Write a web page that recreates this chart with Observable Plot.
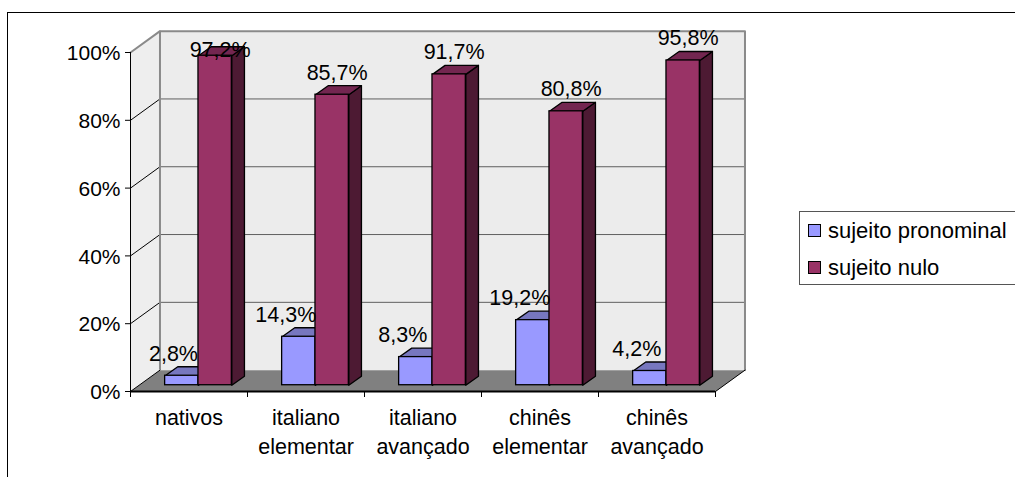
<!DOCTYPE html>
<html lang="pt">
<head>
<meta charset="utf-8">
<script src="https://cdn.jsdelivr.net/npm/d3@7"></script>
<script src="https://cdn.jsdelivr.net/npm/@observablehq/plot@0.6"></script>
<style>
  html, body { margin: 0; padding: 0; background: #fff; }
  #page { position: relative; width: 1015px; height: 477px; overflow: hidden; font-family: "Liberation Sans", Arial, sans-serif; color: #000; }
  #page svg { position: absolute; left: 0; top: 0; }
  #frame { position: absolute; left: 7px; top: 12px; right: -2px; bottom: -2px; border-left: 1px solid #000; border-top: 1px solid #000; }
  #legend { position: absolute; left: 799px; top: 211px; width: 230px; height: 72px; border: 1px solid #555; background: #fff; font-size: 22px; }
  #legend div { position: absolute; left: 28px; line-height: 24px; white-space: nowrap; }
  #legend div i { position: absolute; left: -20px; top: 5px; width: 11px; height: 11px; border: 1.5px solid #000; }
</style>
</head>
<body>
<div id="page">
  <div id="frame"></div>
  <div id="chart"></div>
  <div id="legend"></div>
</div>
<script>
const categories = ["nativos", "italiano\nelementar", "italiano\navançado", "chinês\nelementar", "chinês\navançado"];
const seriesNames = ["sujeito pronominal", "sujeito nulo"];
const pronominal = [2.8, 14.3, 8.3, 19.2, 4.2];
const nulo = [97.2, 85.7, 91.7, 80.8, 95.8];
const yTicks = [0, 20, 40, 60, 80, 100];

const blue = { front: "#9999ff", top: "#7777bf", side: "#4d4d80" };
const plum = { front: "#993366", top: "#732650", side: "#4d1a33" };

// Oblique projection, in scale units: category widths across, percent up.
const wall = { dx: 0.252, dy: 6.3 };
const barDepth = { dx: 0.108, dy: 2.65 };
const inset = { dx: 0.081, dy: 1.85 };
const barWidth = 0.285;
const n = categories.length;

const poly = (pts, fill, stroke, strokeWidth = 1) =>
  Plot.line(pts, { x: "0", y: "1", fill, stroke, strokeWidth, curve: "linear-closed" });

// One bar: front face plus the receding top and side faces.
function prism(values, side, colors) {
  return values.flatMap((v, i) => {
    const c = i + 0.5 + inset.dx;
    const x1 = side < 0 ? c - barWidth : c;
    const x2 = side < 0 ? c : c + barWidth;
    const y1 = inset.dy, y2 = inset.dy + v;
    const { dx, dy } = barDepth;
    return [
      poly([[x2, y1], [x2 + dx, y1 + dy], [x2 + dx, y2 + dy], [x2, y2]], colors.side, "#000", 1.3),
      poly([[x1, y2], [x2, y2], [x2 + dx, y2 + dy], [x1 + dx, y2 + dy]], colors.top, "#000", 1.3),
      Plot.rect([0], { x1: () => x1, x2: () => x2, y1: () => y1, y2: () => y2, fill: colors.front, stroke: "#000", strokeWidth: 1.3 })
    ];
  });
}

// Value labels float above each bar; the tallest one is held down under the top of the
// wall, and the shortest is pushed against the neighbouring bar.
const fmt = (v) => v.toFixed(1).replace(".", ",") + "%";
const labelY = (v) => inset.dy + v - (v > 97 ? 4.7 : 0);
const labelX = (v, i, offset) => i + 0.5 + inset.dx + offset + (v < 3 ? 0.04 : 0);
const valueLabels = (values, offset, dx) =>
  Plot.text(values, {
    x: (v, i) => labelX(v, i, offset),
    y: labelY,
    text: fmt,
    dy: -22,
    dx,
    fontSize: 21.5,
    fill: "#000"
  });

const chart = Plot.plot({
  width: 1015,
  height: 477,
  marginLeft: 130,
  marginRight: 300,
  marginTop: 52,
  marginBottom: 86,
  style: { fontFamily: "'Liberation Sans', Arial, sans-serif", background: "transparent", overflow: "visible" },
  x: { type: "linear", domain: [0, n], axis: null },
  y: { type: "linear", domain: [0, 100], axis: null },
  marks: [
    // side and back walls
    poly([[0, 0], [wall.dx, wall.dy], [wall.dx, 100 + wall.dy], [0, 100]], "#eeeeee", "none"),
    poly([[wall.dx, wall.dy], [n + wall.dx, wall.dy], [n + wall.dx, 100 + wall.dy], [wall.dx, 100 + wall.dy]], "#ececec", "none"),

    // gridlines across the back wall and down the side wall
    Plot.ruleY(yTicks.slice(1, -1), { x1: wall.dx, x2: n + wall.dx, y: (d) => d + wall.dy, stroke: "#5f5f5f", strokeWidth: 1 }),
    Plot.line(yTicks.slice(1, -1).flatMap((d) => [{ t: d, x: 0, y: d }, { t: d, x: wall.dx, y: d + wall.dy }]),
      { x: "x", y: "y", z: "t", stroke: "#000", strokeWidth: 1 }),

    // wall outline
    Plot.line([[0, 100], [wall.dx, 100 + wall.dy], [n + wall.dx, 100 + wall.dy], [n + wall.dx, wall.dy]],
      { x: "0", y: "1", stroke: "#8a8a8a", strokeWidth: 2 }),
    Plot.ruleX([wall.dx], { y1: wall.dy, y2: 100 + wall.dy, stroke: "#8a8a8a", strokeWidth: 2 }),

    // floor
    poly([[0, 0], [n, 0], [n + wall.dx, wall.dy], [wall.dx, wall.dy]], "#808080", "none"),
    Plot.line([[n, 0], [n + wall.dx, wall.dy]], { x: "0", y: "1", stroke: "#000", strokeWidth: 1 }),
    Plot.line([[0, 0], [wall.dx, wall.dy]], { x: "0", y: "1", stroke: "#000", strokeWidth: 1 }),

    // axes: tick strokes and tick labels are separate so the labels can sit a pixel lower
    Plot.ruleX([0], { y1: 0, y2: 100, stroke: "#000", strokeWidth: 1 }),
    Plot.ruleY([0], { x1: 0, x2: n, stroke: "#000", strokeWidth: 2 }),
    Plot.tickY(yTicks, { y: (d) => d, dx: 0, stroke: "#000", insetLeft: -5, insetRight: 585 }),
    Plot.axisY({ ticks: yTicks, tickFormat: (d) => d + "%", tickSize: 0, tickPadding: 10, dy: 1, fontSize: 21, fill: "#000", label: null }),
    Plot.axisX({ ticks: d3.range(n + 1), tickFormat: () => "", tickSize: 6, stroke: "#000", label: null }),
    Plot.text(categories, {
      x: (_, i) => i + 0.5,
      frameAnchor: "bottom",
      lineAnchor: "top",
      dy: 12,
      lineHeight: 1.38,
      fontSize: 21.5,
      fill: "#000"
    }),

    // bars, pronominal first so the null-subject bar overlaps its side
    ...prism(pronominal, -1, blue),
    ...prism(nulo, 1, plum),

    valueLabels(pronominal, -barWidth / 2, -13),
    valueLabels(nulo, barWidth / 2, 5)
  ]
});
document.getElementById("chart").append(chart);

// Legend box at the right of the chart
const legend = document.getElementById("legend");
seriesNames.forEach((name, i) => {
  const row = document.createElement("div");
  row.style.top = (7 + i * 36.5) + "px";
  row.textContent = name;
  const swatch = document.createElement("i");
  swatch.style.background = [blue, plum][i].front;
  row.prepend(swatch);
  legend.append(row);
});
</script>
</body>
</html>
